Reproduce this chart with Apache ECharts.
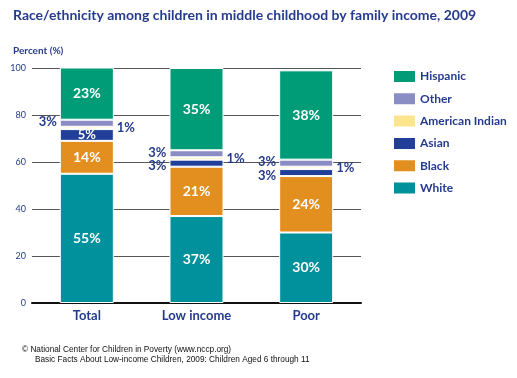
<!DOCTYPE html>
<html><head><meta charset="utf-8">
<script src="https://cdn.jsdelivr.net/npm/echarts@6/dist/echarts.min.js"></script>
<style>html,body{margin:0;padding:0;background:#fff}#c{width:517px;height:378px}</style>
</head><body><div id="c"></div>
<script>
const categories = ['Total', 'Low income', 'Poor'];
const white = [55, 37, 30];
const black = [14, 21, 24];
const asian = [5, 3, 3];
const amIndian = [1, 1, 1];
const other = [3, 3, 3];
const hispanic = [23, 35, 38];
const yTicks = [0, 20, 40, 60, 80, 100];

const NAVY = '#253b8e';
const FONT = 'Lato, "Noto Sans", sans-serif';
const FOOT = '"Liberation Sans", sans-serif';

const inLabel = {show: true, position: 'inside', color: '#fff', fontWeight: 'bold', fontSize: 14, fontFamily: FONT, formatter: '{c}%'};
const leftLabel = {show: true, position: 'left', distance: 3, color: NAVY, fontWeight: 'bold', fontSize: 13, fontFamily: FONT, formatter: '{c}%'};
const rightLabel = {show: true, position: 'right', distance: 3, color: NAVY, fontWeight: 'bold', fontSize: 13, fontFamily: FONT, formatter: '{c}%'};

function mk(name, vals, color, labelFn) {
  return {
    name, type: 'bar', stack: 'all', barWidth: 54,
    itemStyle: {color, borderColor: '#fff', borderWidth: 1},
    data: vals.map((v, i) => ({value: v, label: labelFn(i)}))
  };
}

const chart = echarts.init(document.getElementById('c'), null, {renderer: 'canvas'});
chart.setOption({
  animation: false,
  backgroundColor: '#fff',
  title: {
    text: 'Race/ethnicity among children in middle childhood by family income, 2009',
    left: 13, top: 8, padding: 0,
    textStyle: {color: NAVY, fontSize: 14, fontWeight: 'bold', fontFamily: FONT}
  },
  legend: {
    orient: 'vertical', left: 392, top: 69, padding: 0, itemWidth: 23, itemHeight: 13, itemGap: 7.3,
    icon: 'rect', selectedMode: false,
    data: ['Hispanic', 'Other', 'American Indian', 'Asian', 'Black', 'White'],
    textStyle: {color: NAVY, fontSize: 12, fontWeight: 'bold', fontFamily: FONT, padding: [0, 0, 0, -1]}
  },
  grid: {left: 32, right: 156, top: 68, bottom: 75},
  xAxis: {
    type: 'category', data: categories,
    axisLine: {lineStyle: {color: '#111', width: 2}},
    axisTick: {show: false},
    axisLabel: {color: NAVY, fontSize: 13, fontWeight: 'bold', fontFamily: FONT, margin: 6}
  },
  yAxis: {
    type: 'value', min: 0, max: 100, interval: 20,
    name: 'Percent (%)', nameLocation: 'end', nameGap: 0,
    nameTextStyle: {color: NAVY, fontSize: 10, fontWeight: 'bold', fontFamily: FONT, align: 'left', padding: [0, 0, 12, -19]},
    axisLine: {show: false}, axisTick: {show: false},
    axisLabel: {color: NAVY, fontSize: 9, fontFamily: FONT, margin: 6,
      formatter: v => yTicks.includes(v) ? String(v) : ''},
    splitLine: {lineStyle: {color: '#555', width: 1}}
  },
  series: [
    mk('White', white, '#00919d', () => inLabel),
    mk('Black', black, '#e38f1f', () => inLabel),
    mk('Asian', asian, '#213f98', i => i === 0 ? Object.assign({}, inLabel, {fontSize: 13}) : Object.assign({}, leftLabel, {offset: [0, 3]})),
    mk('American Indian', amIndian, '#fde58e', () => rightLabel),
    mk('Other', other, '#8a8dc3', () => Object.assign({}, leftLabel, {offset: [0, -1]})),
    mk('Hispanic', hispanic, '#009b77', () => inLabel)
  ],
  graphic: [
    {type: 'text', x: 22, y: 344, scaleX: 0.87, style: {text: '© National Center for Children in Poverty (www.nccp.org)', fill: '#111', fontSize: 9.5, fontFamily: FOOT}},
    {type: 'text', x: 35, y: 354, scaleX: 0.87, style: {text: 'Basic Facts About Low-income Children, 2009: Children Aged 6 through 11', fill: '#111', fontSize: 9.5, fontFamily: FOOT}}
  ]
});
</script></body></html>
